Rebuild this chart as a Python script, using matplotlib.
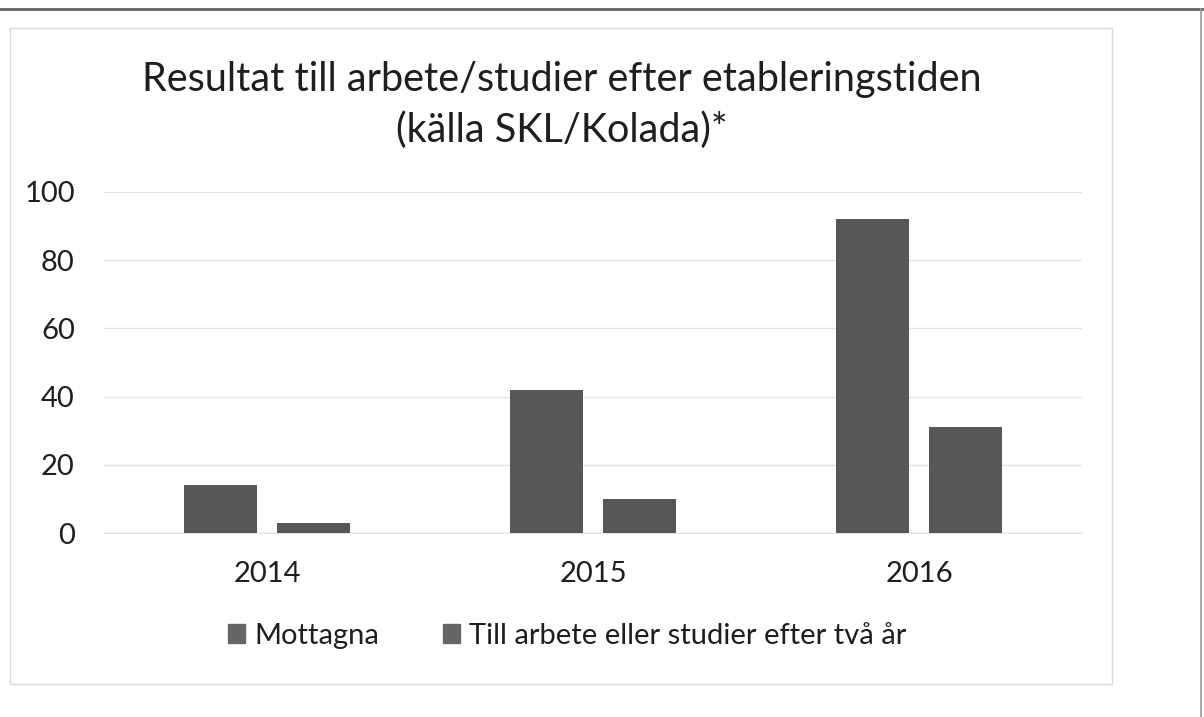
import numpy as np
import matplotlib
matplotlib.use("Agg")
import matplotlib.pyplot as plt
from matplotlib.patches import Rectangle
from matplotlib.lines import Line2D

plt.rcParams['font.family'] = ['Lato', 'DejaVu Sans']

years = ["2014", "2015", "2016"]
mottagna = [14, 42, 92]
till_arbete = [3, 10, 31]
series_names = ["Mottagna", "Till arbete eller studier efter två år"]
yticks = [0, 20, 40, 60, 80, 100]

bar_color = "#575757"
grid_color = "#e3e3e3"

fig = plt.figure(figsize=(12.04, 7.17), dpi=100)
fig.patch.set_facecolor("white")

# scanned page decorations: dark rule at top, chart frame, right edge
fig.add_artist(Line2D([0, 1], [1 - 9 / 717, 1 - 9 / 717], color="#6e6e6e", lw=2.2))
fig.add_artist(Line2D([1201 / 1204, 1201 / 1204], [0, 1 - 9 / 717], color="#9a9a9a", lw=1.2))
fig.add_artist(Rectangle((10 / 1204, 1 - 684 / 717), 1102 / 1204, 656 / 717,
                         transform=fig.transFigure, fill=False, ec="#d9d9d9", lw=1.0))

ax = fig.add_axes([104 / 1204, 1 - 533 / 717, 978 / 1204, 341 / 717])
x = np.arange(len(years))
w = 0.221
off = 0.1427
ax.bar(x - off, mottagna, w, color=bar_color, zorder=3)
ax.bar(x + off, till_arbete, w, color=bar_color, zorder=3)

ax.set_xlim(-0.5, 2.5)
ax.set_ylim(0, 100)
ax.set_yticks(yticks)
ax.set_xticks(x)
ax.set_xticklabels(years)
ax.grid(axis="y", color=grid_color, lw=1.0, zorder=0)
for s in ["top", "right", "left"]:
    ax.spines[s].set_visible(False)
ax.spines["bottom"].set_color(grid_color)
ax.tick_params(axis="both", length=0, labelsize=21, colors="#1e1e1e")
ax.tick_params(axis="y", pad=21)
ax.tick_params(axis="x", pad=20)

fig.text(0.467, 1 - 80 / 717, "Resultat till arbete/studier efter etableringstiden",
         ha="center", va="center", fontsize=28.5, color="#1e1e1e")
fig.text(0.467, 1 - 130 / 717, "(källa SKL/Kolada)*",
         ha="center", va="center", fontsize=28.5, color="#1e1e1e")

handles = [Rectangle((0, 0), 1, 1, color="#666666") for _ in series_names]
fig.legend(handles, series_names, loc="center", bbox_to_anchor=(0.471, 1 - 636 / 717),
           ncol=2, frameon=False, fontsize=21, handlelength=0.6, handleheight=0.6,
           handletextpad=0.3, columnspacing=2.2, labelcolor="#1e1e1e")

fig.savefig("out.png", dpi=100, facecolor="white")
